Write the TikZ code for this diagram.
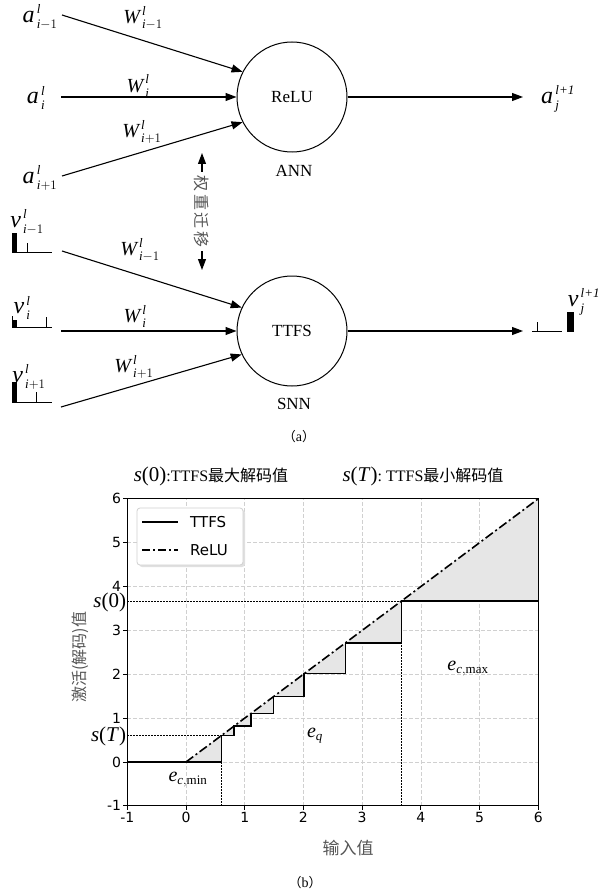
\RequirePackage{fix-cm}
\documentclass[tikz,border=0pt]{standalone}
\usepackage{amsmath}
\usepackage{fontspec}
\setmainfont{Liberation Serif}
\newfontfamily\dejavu{DejaVu Sans}
\newfontfamily\cjk{Noto Sans CJK SC}
\usetikzlibrary{arrows.meta}
\DeclareMathSizes{24}{24}{13}{10}
\DeclareMathSizes{20}{20}{13}{10}
\DeclareMathSizes{21}{21}{13}{10}
\definecolor{gridc}{HTML}{D0D0D0}
\definecolor{shadec}{HTML}{E6E6E6}
\definecolor{cjkgray}{HTML}{555555}
\newcommand\ml[3]{$\textit{#1}^{\,\textit{#2}}_{\,#3}$}
\begin{document}
\begin{tikzpicture}[x=1pt,y=-1pt,
  conn/.style={line width=1.1pt,-{Triangle[length=11pt,width=8pt]}},
  dconn/.style={line width=1.1pt,{Triangle[length=11pt,width=8pt]}-{Triangle[length=11pt,width=8pt]}},
  neuron/.style={circle,draw,line width=1pt,minimum size=110pt,inner sep=0pt,font=\fontsize{17}{20}\selectfont},
  mlab/.style={font=\fontsize{24}{26}\selectfont,inner sep=0pt},
  wlab/.style={font=\fontsize{20}{22}\selectfont,inner sep=0pt},
  tlab/.style={font=\fontsize{17}{20}\selectfont,inner sep=0pt},
  spk/.style={line width=1pt},
  ticklab/.style={font=\dejavu\fontsize{14}{16}\selectfont,inner sep=1pt},
  leglab/.style={font=\dejavu\fontsize{15}{17}\selectfont,inner sep=0pt,anchor=west},
  ttfsline/.style={line width=1.6pt,line join=miter},
  reluline/.style={line width=1.6pt,dash pattern=on 9pt off 3pt on 2pt off 3pt},
  dotline/.style={line width=0.9pt,dash pattern=on 1.5pt off 1.5pt},
  gridline/.style={gridc,line width=0.6pt,dash pattern=on 4pt off 2pt},
  cjklab/.style={font=\cjk\fontsize{16}{18}\selectfont,inner sep=0pt},
  emath/.style={font=\fontsize{20}{22}\selectfont,inner sep=0pt},
  smath/.style={font=\fontsize{21}{23}\selectfont,inner sep=0pt}
]
\path[use as bounding box] (0,0) rectangle (598,896);

%% ---------------- (a) ANN ----------------
\node[neuron] (relu) at (292,97) {ReLU};
\node[tlab] (ann) at (294,171) {ANN};
\node[mlab] (a1) at (40,17) {\ml{a}{l}{\textit{i}-1}};
\node[mlab] (a2) at (36,98) {\ml{a}{l}{\textit{i}}};
\node[mlab] (a3) at (40,178) {\ml{a}{l}{\textit{i}+1}};
\coordinate (sa1) at (62,15);
\coordinate (sa2) at (61,97);
\coordinate (sa3) at (62,176);
\draw[conn] (sa1) -- (relu.153);
\draw[conn] (sa2) -- (relu.180);
\draw[conn] (sa3) -- (relu.207);
\node[wlab] (w1) at (143,18) {\ml{W}{l}{\textit{i}-1}};
\node[wlab] (w2) at (138,86) {\ml{W}{l}{\textit{i}}};
\node[wlab] (w3) at (142,132) {\ml{W}{l}{\textit{i}+1}};
\coordinate (ea) at (523,97);
\draw[conn] (relu.east) -- (ea);
\node[mlab] (aout) at (558,99) {\ml{a}{l+1}{\textit{j}}};

%% weight transfer
\coordinate (wt) at (202,153);
\coordinate (wb) at (202,270);
\draw[dconn] (wt) -- (wb) node[midway,fill=white,rotate=-90,cjklab,text=cjkgray,inner xsep=3pt] (wtxt) {权\,重\,迁\,移};

%% ---------------- SNN ----------------
\node[neuron] (ttfs) at (292,331) {TTFS};
\node[tlab] (snn) at (294,404) {SNN};
\node[mlab] (v1) at (27,222) {\ml{v}{l}{\textit{i}-1}};
\node[mlab] (v2) at (22,308) {\ml{v}{l}{\textit{i}}};
\node[mlab] (v3) at (29,377) {\ml{v}{l}{\textit{i}+1}};
% spike trains
\fill (12,233) rectangle (17,252);
\draw[spk] (27,243) -- (27,252);
\draw[spk] (12,252) -- (52,252);
\draw[spk] (12.5,316) -- (12.5,327);
\fill (12,320) rectangle (17,327);
\draw[spk] (46,317) -- (46,327);
\draw[spk] (12,327) -- (52,327);
\fill (12,382) rectangle (17,402);
\draw[spk] (36,392) -- (36,402);
\draw[spk] (12,402) -- (52,402);
\coordinate (sv1) at (62,251);
\coordinate (sv2) at (61,331);
\coordinate (sv3) at (61,407);
\draw[conn] (sv1) -- (ttfs.155);
\draw[conn] (sv2) -- (ttfs.180);
\draw[conn] (sv3) -- (ttfs.205);
\node[wlab] (w4) at (140,250) {\ml{W}{l}{\textit{i}-1}};
\node[wlab] (w5) at (135,316) {\ml{W}{l}{\textit{i}}};
\node[wlab] (w6) at (134,367) {\ml{W}{l}{\textit{i}+1}};
\coordinate (ev) at (523,331);
\draw[conn] (ttfs.east) -- (ev);
\draw[spk] (537,322) -- (537,331);
\draw[spk] (532,331) -- (562,331);
\fill (567,312) rectangle (574,332);
\node[mlab] (vout) at (584,302) {\ml{v}{l+1}{\textit{j}}};

\node[inner sep=0pt] (capa) at (299,437) {{\cjk\fontsize{13}{15}\selectfont （}\fontsize{14}{15}\selectfont a{\cjk\fontsize{13}{15}\selectfont ）}};

%% ---------------- (b) plot ----------------
\node[inner sep=0pt] (title1) at (211,476) {\fontsize{21}{23}\selectfont\textit{s}(0)\fontsize{16}{18}\selectfont:TTFS{\cjk 最大解码值}};
\node[inner sep=0pt] (title2) at (423,476) {\fontsize{21}{23}\selectfont\textit{s}(\textit{T})\fontsize{16}{18}\selectfont: TTFS{\cjk 最小解码值}};

\begin{scope}[shift={(186,762)},x=58.7pt,y=43.86pt]
  % grid
  \foreach \g in {0,...,5} {
    \draw[gridline] (\g,-1) -- (\g,6);
    \draw[gridline] (-1,\g) -- (6,\g);
  }
  % shaded error areas
  \fill[shadec] (0,0) -- (0.6065,0.6065) -- (0.6065,0) -- cycle;
  \fill[shadec] (0.6065,0.6065) -- (0.8187,0.8187) -- (0.8187,0.6065) -- cycle;
  \fill[shadec] (0.8187,0.8187) -- (1.1052,1.1052) -- (1.1052,0.8187) -- cycle;
  \fill[shadec] (1.1052,1.1052) -- (1.4918,1.4918) -- (1.4918,1.1052) -- cycle;
  \fill[shadec] (1.4918,1.4918) -- (2.0138,2.0138) -- (2.0138,1.4918) -- cycle;
  \fill[shadec] (2.0138,2.0138) -- (2.7183,2.7183) -- (2.7183,2.0138) -- cycle;
  \fill[shadec] (2.7183,2.7183) -- (3.6693,3.6693) -- (3.6693,2.7183) -- cycle;
  \fill[shadec] (3.6693,3.6693) -- (6,6) -- (6,3.6693) -- cycle;
  % dotted guides
  \draw[dotline] (-1,3.6693) -- (3.6693,3.6693);
  \draw[dotline] (3.6693,-1) -- (3.6693,3.6693);
  \draw[dotline] (-1,0.6065) -- (0.6065,0.6065);
  \draw[dotline] (0.6065,-1) -- (0.6065,0);
  % ReLU
  \draw[reluline] (0,0) -- (6,6);
  % TTFS step
  \draw[ttfsline] (-1,0) -| (0.6065,0.6065) -| (0.8187,0.8187) -| (1.1052,1.1052)
     -| (1.4918,1.4918) -| (2.0138,2.0138) -| (2.7183,2.7183) -| (3.6693,3.6693) -- (6,3.6693);
  % frame
  \draw[line width=0.9pt] (-1,-1) rectangle (6,6);
  % ticks
  \foreach \t in {-1,...,6} {
    \draw[line width=0.8pt] (-1,\t) -- ++(-4pt,0);
    \draw[line width=0.8pt] (\t,-1) -- ++(0,-4pt);
    \node[ticklab,anchor=east] (yt\t) at ([xshift=-5pt]-1,\t) {\t};
    \node[ticklab,anchor=north] (xt\t) at ([yshift=-5pt]\t,-1) {\t};
  }
  \node[smath,anchor=east] (s0lab) at ([xshift=-1pt,yshift=-1pt]-1,3.6693) {\textit{s}(0)};
  \node[smath,anchor=east] (sTlab) at ([xshift=-1pt,yshift=-1pt]-1,0.6065) {\textit{s}(\textit{T})};
\end{scope}

\node[emath] (ecmin) at (188,780) {$\textit{e}_{\textit{c},\text{min}}$};
\node[emath] (eq) at (315,736) {$\textit{e}_{\textit{q}}$};
\node[emath] (ecmax) at (468,669) {$\textit{e}_{\textit{c},\text{max}}$};

% legend
\fill[black!12,rounded corners=3pt] (139,510) rectangle (245,567);
\draw[gridc,fill=white,rounded corners=3pt,line width=0.8pt] (137,508) rectangle (243,565);
\coordinate (lt1) at (142,522);
\coordinate (lt2) at (178,522);
\coordinate (lr1) at (142,550);
\coordinate (lr2) at (178,550);
\draw[ttfsline] (lt1) -- (lt2);
\draw[line width=1.6pt,dash pattern=on 8pt off 3pt on 2pt off 3pt] (lr1) -- (lr2);
\node[leglab] (legt) at (190,522) {TTFS};
\node[leglab] (legr) at (190,550) {ReLU};

% axis labels
\node[cjklab,text=cjkgray,rotate=90] (ylab) at (80,657) {激活(解码)值};
\node[cjklab,text=cjkgray,font=\cjk\fontsize{17}{19}\selectfont] (xlab) at (348,848) {输入值};
\node[inner sep=0pt] (capb) at (305,883) {{\cjk\fontsize{13}{15}\selectfont （}\fontsize{14}{15}\selectfont b{\cjk\fontsize{13}{15}\selectfont ）}};
\end{tikzpicture}
\end{document}
